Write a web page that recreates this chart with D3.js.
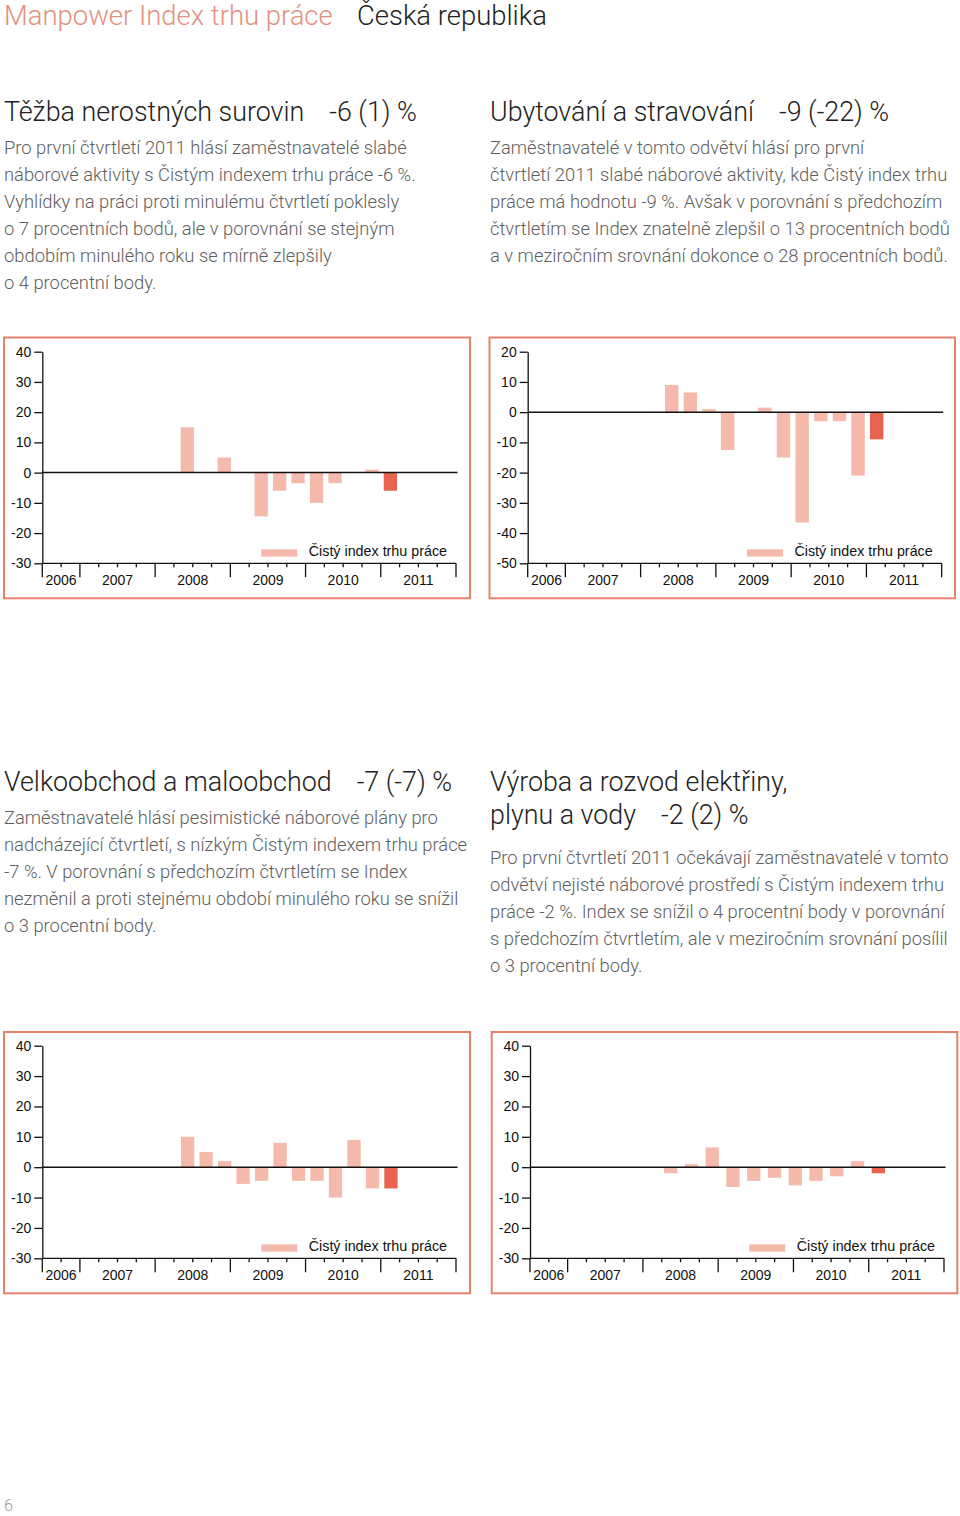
<!DOCTYPE html>
<html><head><meta charset="utf-8">
<script src="https://cdn.jsdelivr.net/npm/d3@7"></script>
<style>
html,body{margin:0;padding:0;background:#fff;}
svg{display:block;}
</style></head><body>
<svg id="page" width="960" height="1516"></svg>
<script>
// ---------------- DATA ----------------
const quarterLabels = ["2006 Q3","2006 Q4",
  "2007 Q1","2007 Q2","2007 Q3","2007 Q4",
  "2008 Q1","2008 Q2","2008 Q3","2008 Q4",
  "2009 Q1","2009 Q2","2009 Q3","2009 Q4",
  "2010 Q1","2010 Q2","2010 Q3","2010 Q4",
  "2011 Q1","2011 Q2","2011 Q3","2011 Q4"];
const yearLabels = ["2006","2007","2008","2009","2010","2011"];
const yearFirstQuarter = ["2006 Q3","2007 Q1","2008 Q1","2009 Q1","2010 Q1","2011 Q1"];
const currentQuarter = "2011 Q1";
const legendLabel = "Čistý index trhu práce";

const seriesQuarters = ["2008 Q2","2008 Q3","2008 Q4","2009 Q1","2009 Q2","2009 Q3",
  "2009 Q4","2010 Q1","2010 Q2","2010 Q3","2010 Q4","2011 Q1"];
const vyrobaQuarters = ["2008 Q3","2008 Q4","2009 Q1","2009 Q2","2009 Q3",
  "2009 Q4","2010 Q1","2010 Q2","2010 Q3","2010 Q4","2011 Q1"];

const tezbaValues       = [15, 0, 5, 0, -14.5, -6, -3.5, -10, -3.5, 0, 1, -6];
const ubytovaniValues   = [9, 6.5, 1, -12.5, 0, 1.5, -15, -36.5, -3, -3, -21, -9];
const velkoobchodValues = [10, 5, 2, -5.5, -4.5, 8, -4.5, -4.5, -10, 9, -7, -7];
const vyrobaValues      = [-2, 1, 6.5, -6.5, -4.5, -3.5, -6, -4.5, -3, 2, -2];

const ticks40 = [40, 30, 20, 10, 0, -10, -20, -30];
const ticks20 = [20, 10, 0, -10, -20, -30, -40, -50];

const headerLeft = "Manpower Index trhu práce";
const headerRight = "Česká republika";

const tezbaTitle = ["Těžba nerostných surovin"], tezbaFigure = "-6 (1) %";
const tezbaText = [
  "Pro první čtvrtletí 2011 hlásí zaměstnavatelé slabé",
  "náborové aktivity s Čistým indexem trhu práce -6 %.",
  "Vyhlídky na práci proti minulému čtvrtletí poklesly",
  "o 7 procentních bodů, ale v porovnání se stejným",
  "obdobím minulého roku se mírně zlepšily",
  "o 4 procentní body."];
const ubytovaniTitle = ["Ubytování a stravování"], ubytovaniFigure = "-9 (-22) %";
const ubytovaniText = [
  "Zaměstnavatelé v tomto odvětví hlásí pro první",
  "čtvrtletí 2011 slabé náborové aktivity, kde Čistý index trhu",
  "práce má hodnotu -9 %. Avšak v porovnání s předchozím",
  "čtvrtletím se Index znatelně zlepšil o 13 procentních bodů",
  "a v meziročním srovnání dokonce o 28 procentních bodů."];
const velkoobchodTitle = ["Velkoobchod a maloobchod"], velkoobchodFigure = "-7 (-7) %";
const velkoobchodText = [
  "Zaměstnavatelé hlásí pesimistické náborové plány pro",
  "nadcházející čtvrtletí, s nízkým Čistým indexem trhu práce",
  "-7 %. V porovnání s předchozím čtvrtletím se Index",
  "nezměnil a proti stejnému období minulého roku se snížil",
  "o 3 procentní body."];
const vyrobaTitle = ["Výroba a rozvod elektřiny,", "plynu a vody"], vyrobaFigure = "-2 (2) %";
const vyrobaText = [
  "Pro první čtvrtletí 2011 očekávají zaměstnavatelé v tomto",
  "odvětví nejisté náborové prostředí s Čistým indexem trhu",
  "práce -2 %. Index se snížil o 4 procentní body v porovnání",
  "s předchozím čtvrtletím, ale v meziročním srovnání posílil",
  "o 3 procentní body."];
const pageNumber = "6";

// ---------------- STYLE ----------------
const TEXT_FONT = "Roboto, 'Open Sans', 'Liberation Sans', sans-serif";
const CHART_FONT = "'Liberation Sans', Arial, sans-serif";
const FRAME = "#e8806d", LIGHT = "#f5baab", RED = "#e8644f", SALMON = "#e3917f";

const svg = d3.select("#page");

function measure(str, size, weight) {
  const t = svg.append("text").attr("font-family", TEXT_FONT).attr("font-weight", weight)
    .attr("font-size", size).style("white-space", "pre").text(str);
  const w = t.node().getComputedTextLength();
  t.remove();
  return w;
}
function fitSize(pairs, weight, base) {
  const sizes = pairs.map(([s, target]) => base * target / measure(s, base, weight));
  return d3.mean(sizes);
}
const headerSize = fitSize([[headerLeft, 327], [headerRight, 191]], 300, 28);
const titleSize = fitSize([[tezbaTitle[0], 289], [ubytovaniTitle[0], 262],
  [velkoobchodTitle[0], 333], [vyrobaTitle[0], 299], [vyrobaTitle[1], 150]], 300, 27);
const bodySize = fitSize([[ubytovaniText[4], 460], [velkoobchodText[1], 449],
  [tezbaText[1], 416], [vyrobaText[2], 463]], 300, 18);

function txt(x, y, s, size, fill, weight) {
  return svg.append("text").attr("x", x).attr("y", y).attr("font-family", TEXT_FONT)
    .attr("font-weight", weight || 300).attr("font-size", size).attr("fill", fill)
    .style("white-space", "pre").text(s);
}
// header
txt(4, 25, headerLeft, headerSize, SALMON);
txt(357, 25, headerRight, headerSize, "#222");

// sections text
function section(x, titleLines, figure, titleY, bodyLines, bodyY) {
  let last;
  titleLines.forEach((l, i) => { last = txt(x, titleY + i * 33, l, titleSize, "#222"); });
  const endX = x + last.node().getComputedTextLength();
  txt(endX + 25, titleY + (titleLines.length - 1) * 33, figure, titleSize, "#222");
  bodyLines.forEach((l, i) => txt(x, bodyY + i * 27, l, bodySize, "#5e5e5e"));
}
section(4, tezbaTitle, tezbaFigure, 121, tezbaText, 154);
section(490, ubytovaniTitle, ubytovaniFigure, 121, ubytovaniText, 154);
section(4, velkoobchodTitle, velkoobchodFigure, 791, velkoobchodText, 823.5);
section(490, vyrobaTitle, vyrobaFigure, 791, vyrobaText, 864);
txt(4, 1511, pageNumber, 16, "#999");

// ---------------- CHARTS ----------------
function drawChart(cfg) {
  const g = svg.append("g");
  const [fx0, fy0, fx1, fy1] = cfg.frame;
  g.append("rect").attr("x", fx0).attr("y", fy0).attr("width", fx1 - fx0).attr("height", fy1 - fy0)
    .attr("fill", "none").attr("stroke", FRAME).attr("stroke-width", 2);

  const y = d3.scaleLinear().domain(cfg.yDomain).range([cfg.yBottom, cfg.yTop]);
  const xq = d3.scaleBand().domain(quarterLabels).range([cfg.xLeft, cfg.xRight]);

  // bars
  const bx = d3.scaleBand().domain(cfg.quarters).range(cfg.barRange)
    .paddingInner(cfg.pad).paddingOuter(cfg.pad / 2);
  const data = cfg.quarters.map((q, i) => ({ q, v: cfg.values[i] }));
  g.append("g").selectAll("rect").data(data.filter(d => d.v !== 0)).join("rect")
    .attr("x", d => bx(d.q)).attr("width", bx.bandwidth())
    .attr("y", d => y(Math.max(0, d.v)))
    .attr("height", d => Math.abs(y(d.v) - y(0)))
    .attr("fill", d => d.q === currentQuarter ? RED : LIGHT);

  // y axis
  const ya = g.append("g").attr("transform", `translate(${cfg.xLeft},0)`)
    .call(d3.axisLeft(y).tickValues(cfg.ticks).tickSize(8).tickSizeOuter(0).tickPadding(3)
      .tickFormat(d => String(d)));
  ya.selectAll("text").attr("font-family", CHART_FONT).attr("font-size", 14).attr("fill", "#111");
  ya.selectAll("line, path").attr("stroke", "#111").attr("stroke-width", 1.3);

  // x axis: quarter boundaries
  const bounds = quarterLabels.map(q => xq(q)).concat([cfg.xRight]);
  const majorX = yearFirstQuarter.map(q => xq(q)).concat([cfg.xRight]);
  const xa = g.append("g");
  xa.append("line").attr("x1", cfg.xLeft).attr("x2", cfg.xRight)
    .attr("y1", cfg.yBottom).attr("y2", cfg.yBottom).attr("stroke", "#111").attr("stroke-width", 1.3);
  xa.selectAll("line.t").data(bounds).join("line").attr("class", "t")
    .attr("x1", d => d).attr("x2", d => d)
    .attr("y1", cfg.yBottom)
    .attr("y2", d => majorX.some(m => Math.abs(m - d) < 0.01) ? cfg.yBottom + 14 : cfg.yBottom + 4)
    .attr("stroke", "#111").attr("stroke-width", 1.3);
  xa.selectAll("text").data(yearLabels).join("text")
    .attr("x", (d, i) => (majorX[i] + majorX[i + 1]) / 2)
    .attr("y", cfg.yBottom + 22)
    .attr("text-anchor", "middle").attr("font-family", CHART_FONT).attr("font-size", 14)
    .attr("fill", "#111").text(d => d);

  // zero line
  g.append("line").attr("x1", cfg.xLeft).attr("x2", cfg.xRight + 1.5)
    .attr("y1", y(0)).attr("y2", y(0)).attr("stroke", "#111").attr("stroke-width", 1.5);

  // legend
  const lt = g.append("text").attr("x", cfg.xRight - 9).attr("y", cfg.yBottom - 7)
    .attr("text-anchor", "end").attr("font-family", CHART_FONT).attr("font-size", 14.3)
    .attr("fill", "#111").text(legendLabel);
  const lw = lt.node().getComputedTextLength();
  g.append("rect").attr("x", cfg.xRight - 9 - lw - 11.5 - 36).attr("y", cfg.yBottom - 14)
    .attr("width", 36).attr("height", 7.3).attr("fill", LIGHT);
}

drawChart({ frame: [4, 337.5, 470, 598.3], xLeft: 42.3, xRight: 456, yTop: 351.7, yBottom: 563.3,
  yDomain: [-30, 40], ticks: ticks40, quarters: seriesQuarters, values: tezbaValues,
  barRange: [178.1, 399.6], pad: 0.28 });
drawChart({ frame: [489.5, 337.5, 955, 598.3], xLeft: 527.7, xRight: 941.7, yTop: 351.7, yBottom: 563.3,
  yDomain: [-50, 20], ticks: ticks20, quarters: seriesQuarters, values: ubytovaniValues,
  barRange: [662.4, 886], pad: 0.28 });
drawChart({ frame: [4, 1032, 470, 1293.3], xLeft: 42.3, xRight: 456, yTop: 1045.7, yBottom: 1258.3,
  yDomain: [-30, 40], ticks: ticks40, quarters: seriesQuarters, values: velkoobchodValues,
  barRange: [178.4, 400.2], pad: 0.28 });
drawChart({ frame: [491.7, 1032, 957.3, 1293.3], xLeft: 530, xRight: 944, yTop: 1045.7, yBottom: 1258.3,
  yDomain: [-30, 40], ticks: ticks40, quarters: vyrobaQuarters, values: vyrobaValues,
  barRange: [660.3, 888.7], pad: 0.36 });
</script>
</body></html>
